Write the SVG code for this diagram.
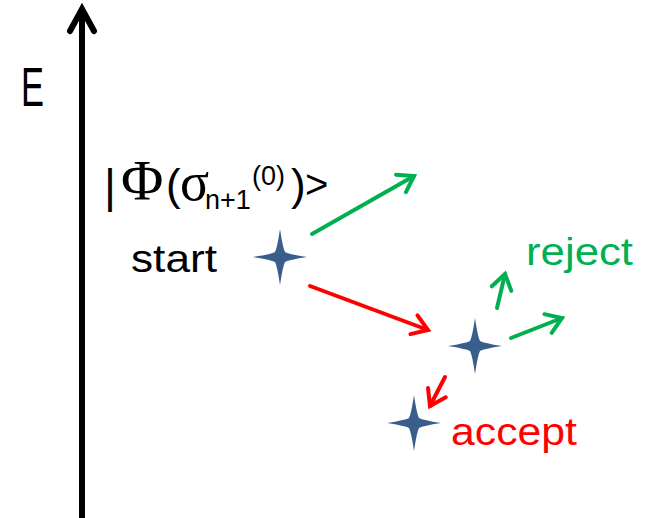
<svg xmlns="http://www.w3.org/2000/svg" width="650" height="518" viewBox="0 0 650 518">
<style>
.sans{font-family:"Liberation Sans",Arial,sans-serif}
.serif{font-family:"Liberation Serif","Times New Roman",serif}
.star{fill:#3A5E8C}
.g{stroke:#00B050;stroke-width:4;fill:none;stroke-linecap:round}
.r{stroke:#FF0000;stroke-width:4;fill:none;stroke-linecap:round}
</style>
<defs>
<marker id="mg" markerUnits="userSpaceOnUse" viewBox="-20 -14 24 28" markerWidth="24" markerHeight="28" refX="0" refY="0" orient="auto">
<path d="M-15,-10 L0,0 L-15,10" fill="none" stroke="#00B050" stroke-width="4" stroke-linecap="round" stroke-linejoin="miter"/>
</marker>
<marker id="mr" markerUnits="userSpaceOnUse" viewBox="-20 -14 24 28" markerWidth="24" markerHeight="28" refX="0" refY="0" orient="auto">
<path d="M-15,-10 L0,0 L-15,10" fill="none" stroke="#FF0000" stroke-width="4" stroke-linecap="round" stroke-linejoin="miter"/>
</marker>
<path id="st" d="M0,-28 Q2.8,-9 5,-5 Q9,-2.8 27,0 Q9,2.8 5,5 Q2.8,9 0,28 Q-2.8,9 -5,5 Q-9,2.8 -27,0 Q-9,-2.8 -5,-5 Q-2.8,-9 0,-28Z"/>
</defs>
<g id="axis">
<line x1="82" y1="518" x2="82" y2="10" stroke="#000" stroke-width="6"/>
<path d="M70,31 L82,9 L94,31" fill="none" stroke="#000" stroke-width="6" stroke-linecap="round" stroke-linejoin="miter"/>
<text class="sans" x="21" y="106" font-size="56" textLength="23" lengthAdjust="spacingAndGlyphs">E</text>
</g>
<g id="label-phi">
<text y="200" class="sans" font-size="40"><tspan x="104" y="202" font-size="46">|</tspan><tspan class="serif" x="121" y="200" font-size="58">Φ</tspan><tspan x="166" font-size="44">(</tspan><tspan class="serif" x="180" font-size="54">σ</tspan><tspan x="205" y="209" font-size="27">n+1</tspan><tspan x="252" y="185" font-size="27">(0)</tspan><tspan x="291" y="200" font-size="44">)</tspan><tspan x="305" y="198">&gt;</tspan></text>
</g>
<g id="start">
<text class="sans" x="131" y="272" font-size="38" textLength="86" lengthAdjust="spacingAndGlyphs">start</text>
<use href="#st" class="star" x="280" y="257"/>
</g>
<g id="state2">
<use href="#st" class="star" x="475" y="346"/>
</g>
<g id="accept">
<use href="#st" class="star" x="414" y="423"/>
<text class="sans" x="451" y="445" font-size="38" fill="#FF0000" textLength="126" lengthAdjust="spacingAndGlyphs">accept</text>
</g>
<g id="reject">
<text class="sans" x="526" y="265" font-size="38" fill="#00B050" textLength="107" lengthAdjust="spacingAndGlyphs">reject</text>
</g>
<g id="connectors">
<line class="g" x1="312" y1="234" x2="414" y2="176" marker-end="url(#mg)"/>
<line class="r" x1="310" y1="286" x2="428" y2="330" marker-end="url(#mr)"/>
<line class="g" x1="497" y1="308" x2="505" y2="274" marker-end="url(#mg)"/>
<line class="g" x1="511" y1="338" x2="562" y2="318" marker-end="url(#mg)"/>
<line class="r" x1="445" y1="377" x2="430" y2="406" marker-end="url(#mr)"/>
</g>
</svg>
